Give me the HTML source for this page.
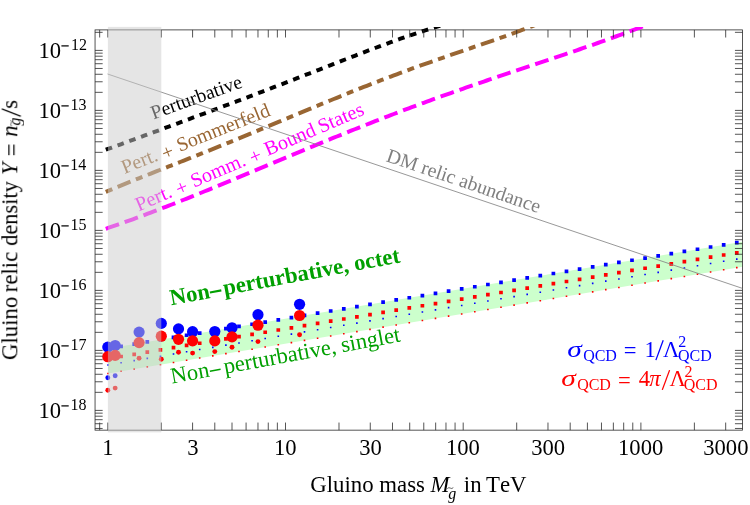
<!DOCTYPE html>
<html><head><meta charset="utf-8"><title>Gluino relic density</title>
<style>
html,body{margin:0;padding:0;background:#fff;}
body{width:750px;height:505px;overflow:hidden;}
svg{display:block;font-family:"Liberation Serif",serif;}
text{font-family:"Liberation Serif",serif;font-kerning:none;font-variant-ligatures:none;}
</style></head><body>
<svg width="750" height="505" viewBox="0 0 750 505">
<rect x="0" y="0" width="750" height="505" fill="#fff"/>
<g opacity="0.999">
<defs><clipPath id="pc"><rect x="95.05" y="26.9" width="647.5" height="405.5"/></clipPath></defs>
<g clip-path="url(#pc)">
<path d="M108.0,348.50 L742.55,241.64 L742.55,266.64 L108.0,373.50Z" fill="#ccffcc"/>
</g>
<rect x="95.05" y="29.9" width="647.5" height="400.25" fill="none" stroke="#2a2a2a" stroke-width="0.8"/>
<g clip-path="url(#pc)">
<path d="M108.0,373.50 L762.55,263.27" stroke="#ff0000" stroke-width="1.6" fill="none" stroke-linecap="square" stroke-dasharray="0 13.284"/>
<path d="M108.0,365.00 L762.55,254.77" stroke="#0000ff" stroke-width="1.6" fill="none" stroke-linecap="square" stroke-dasharray="0 13.284"/>
<path d="M108.0,358.70 L762.55,248.47" stroke="#ff0000" stroke-width="3.7" fill="none" stroke-linecap="square" stroke-dasharray="0 13.284"/>
<path d="M108.0,348.50 L762.55,238.27" stroke="#0000ff" stroke-width="3.7" fill="none" stroke-linecap="square" stroke-dasharray="0 13.284"/>
<path d="M105.80,228.77 L108.80,227.73 L111.80,226.70 L114.80,225.66 L117.80,224.61 L120.80,223.56 L123.80,222.50 L126.80,221.42 L129.80,220.35 L132.80,219.26 L135.80,218.16 L138.80,217.06 L141.80,215.95 L144.80,214.84 L147.80,213.71 L150.80,212.58 L153.80,211.44 L156.80,210.30 L159.80,209.15 L162.80,207.99 L165.80,206.83 L168.80,205.67 L171.80,204.49 L174.80,203.31 L177.80,202.13 L180.80,200.94 L183.80,199.75 L186.80,198.55 L189.80,197.35 L192.80,196.14 L195.80,194.93 L198.80,193.71 L201.80,192.50 L204.80,191.27 L207.80,190.05 L210.80,188.82 L213.80,187.59 L216.80,186.35 L219.80,185.11 L222.80,183.87 L225.80,182.63 L228.80,181.39 L231.80,180.14 L234.80,178.89 L237.80,177.64 L240.80,176.39 L243.80,175.14 L246.80,173.89 L249.80,172.63 L252.80,171.38 L255.80,170.12 L258.80,168.86 L261.80,167.61 L264.80,166.35 L267.80,165.09 L270.80,163.83 L273.80,162.58 L276.80,161.32 L279.80,160.06 L282.80,158.81 L285.80,157.56 L288.80,156.30 L291.80,155.05 L294.80,153.80 L297.80,152.55 L300.80,151.30 L303.80,150.06 L306.80,148.81 L309.80,147.57 L312.80,146.33 L315.80,145.09 L318.80,143.86 L321.80,142.62 L324.80,141.39 L327.80,140.16 L330.80,138.94 L333.80,137.72 L336.80,136.50 L339.80,135.28 L342.80,134.07 L345.80,132.86 L348.80,131.65 L351.80,130.45 L354.80,129.25 L357.80,128.05 L360.80,126.86 L363.80,125.67 L366.80,124.49 L369.80,123.31 L372.80,122.13 L375.80,120.96 L378.80,119.79 L381.80,118.62 L384.80,117.46 L387.80,116.30 L390.80,115.15 L393.80,114.00 L396.80,112.86 L399.80,111.72 L402.80,110.59 L405.80,109.45 L408.80,108.33 L411.80,107.21 L414.80,106.09 L417.80,104.97 L420.80,103.87 L423.80,102.76 L426.80,101.66 L429.80,100.56 L432.80,99.47 L435.80,98.39 L438.80,97.30 L441.80,96.22 L444.80,95.15 L447.80,94.08 L450.80,93.01 L453.80,91.95 L456.80,90.89 L459.80,89.83 L462.80,88.78 L465.80,87.73 L468.80,86.69 L471.80,85.65 L474.80,84.61 L477.80,83.58 L480.80,82.55 L483.80,81.52 L486.80,80.50 L489.80,79.47 L492.80,78.46 L495.80,77.44 L498.80,76.43 L501.80,75.41 L504.80,74.40 L507.80,73.40 L510.80,72.39 L513.80,71.39 L516.80,70.38 L519.80,69.38 L522.80,68.38 L525.80,67.38 L528.80,66.38 L531.80,65.38 L534.80,64.39 L537.80,63.39 L540.80,62.39 L543.80,61.39 L546.80,60.39 L549.80,59.39 L552.80,58.39 L555.80,57.38 L558.80,56.38 L561.80,55.37 L564.80,54.36 L567.80,53.34 L570.80,52.33 L573.80,51.31 L576.80,50.29 L579.80,49.26 L582.80,48.23 L585.80,47.19 L588.80,46.15 L591.80,45.11 L594.80,44.05 L597.80,43.00 L600.80,41.93 L603.80,40.86 L606.80,39.78 L609.80,38.70 L612.80,37.60 L615.80,36.50 L618.80,35.39 L621.80,34.27 L624.80,33.16 L627.80,32.04 L630.80,30.93 L633.80,29.82 L636.80,28.70 L639.80,27.59 L642.80,26.48 L645.80,25.36 L648.80,24.25 L651.80,23.13 L654.80,22.02 L657.80,20.91 L660.80,19.79 L663.80,18.68 L665.00,18.23" stroke="#ff00ff" stroke-width="4.0" fill="none" stroke-dasharray="14.0 6.0"/>
<path d="M105.80,191.81 L108.80,190.55 L111.80,189.29 L114.80,188.04 L117.80,186.79 L120.80,185.56 L123.80,184.34 L126.80,183.12 L129.80,181.91 L132.80,180.70 L135.80,179.50 L138.80,178.30 L141.80,177.11 L144.80,175.92 L147.80,174.74 L150.80,173.56 L153.80,172.37 L156.80,171.19 L159.80,170.01 L162.80,168.84 L165.80,167.66 L168.80,166.48 L171.80,165.30 L174.80,164.12 L177.80,162.94 L180.80,161.76 L183.80,160.58 L186.80,159.39 L189.80,158.21 L192.80,157.02 L195.80,155.83 L198.80,154.63 L201.80,153.44 L204.80,152.24 L207.80,151.03 L210.80,149.83 L213.80,148.62 L216.80,147.41 L219.80,146.20 L222.80,144.98 L225.80,143.77 L228.80,142.54 L231.80,141.32 L234.80,140.09 L237.80,138.86 L240.80,137.63 L243.80,136.40 L246.80,135.16 L249.80,133.92 L252.80,132.68 L255.80,131.44 L258.80,130.19 L261.80,128.94 L264.80,127.70 L267.80,126.45 L270.80,125.20 L273.80,123.94 L276.80,122.69 L279.80,121.44 L282.80,120.18 L285.80,118.93 L288.80,117.68 L291.80,116.42 L294.80,115.17 L297.80,113.91 L300.80,112.66 L303.80,111.41 L306.80,110.16 L309.80,108.91 L312.80,107.67 L315.80,106.42 L318.80,105.18 L321.80,103.94 L324.80,102.70 L327.80,101.47 L330.80,100.24 L333.80,99.01 L336.80,97.78 L339.80,96.56 L342.80,95.35 L345.80,94.13 L348.80,92.92 L351.80,91.72 L354.80,90.52 L357.80,89.32 L360.80,88.13 L363.80,86.95 L366.80,85.77 L369.80,84.59 L372.80,83.42 L375.80,82.26 L378.80,81.10 L381.80,79.94 L384.80,78.80 L387.80,77.65 L390.80,76.52 L393.80,75.39 L396.80,74.26 L399.80,73.15 L402.80,72.03 L405.80,70.93 L408.80,69.83 L411.80,68.73 L414.80,67.64 L417.80,66.56 L420.80,65.48 L423.80,64.40 L426.80,63.34 L429.80,62.27 L432.80,61.21 L435.80,60.16 L438.80,59.11 L441.80,58.06 L444.80,57.02 L447.80,55.98 L450.80,54.95 L453.80,53.91 L456.80,52.88 L459.80,51.85 L462.80,50.83 L465.80,49.80 L468.80,48.77 L471.80,47.75 L474.80,46.72 L477.80,45.70 L480.80,44.67 L483.80,43.64 L486.80,42.60 L489.80,41.57 L492.80,40.53 L495.80,39.48 L498.80,38.43 L501.80,37.37 L504.80,36.30 L507.80,35.23 L510.80,34.14 L513.80,33.05 L516.80,31.94 L519.80,30.83 L522.80,29.71 L525.80,28.59 L528.80,27.48 L531.80,26.36 L534.80,25.24 L537.80,24.13 L540.80,23.01 L543.80,21.89 L546.80,20.78 L549.80,19.66 L552.80,18.54 L555.80,17.43 L558.80,16.31 L560.00,15.86" stroke="#996633" stroke-width="4.0" fill="none" stroke-dasharray="7.0 5.82 13.88 5.82"/>
<path d="M105.80,149.72 L108.80,148.63 L111.80,147.54 L114.80,146.45 L117.80,145.36 L120.80,144.26 L123.80,143.17 L126.80,142.07 L129.80,140.97 L132.80,139.87 L135.80,138.77 L138.80,137.67 L141.80,136.57 L144.80,135.46 L147.80,134.36 L150.80,133.25 L153.80,132.15 L156.80,131.04 L159.80,129.94 L162.80,128.83 L165.80,127.72 L168.80,126.62 L171.80,125.51 L174.80,124.40 L177.80,123.29 L180.80,122.18 L183.80,121.07 L186.80,119.96 L189.80,118.84 L192.80,117.73 L195.80,116.62 L198.80,115.50 L201.80,114.39 L204.80,113.27 L207.80,112.16 L210.80,111.04 L213.80,109.92 L216.80,108.80 L219.80,107.68 L222.80,106.55 L225.80,105.43 L228.80,104.30 L231.80,103.18 L234.80,102.05 L237.80,100.92 L240.80,99.79 L243.80,98.65 L246.80,97.52 L249.80,96.38 L252.80,95.25 L255.80,94.11 L258.80,92.96 L261.80,91.82 L264.80,90.68 L267.80,89.53 L270.80,88.38 L273.80,87.23 L276.80,86.08 L279.80,84.92 L282.80,83.77 L285.80,82.61 L288.80,81.45 L291.80,80.29 L294.80,79.13 L297.80,77.96 L300.80,76.80 L303.80,75.63 L306.80,74.46 L309.80,73.29 L312.80,72.12 L315.80,70.95 L318.80,69.78 L321.80,68.61 L324.80,67.44 L327.80,66.27 L330.80,65.10 L333.80,63.93 L336.80,62.76 L339.80,61.59 L342.80,60.42 L345.80,59.25 L348.80,58.09 L351.80,56.93 L354.80,55.77 L357.80,54.61 L360.80,53.45 L363.80,52.30 L366.80,51.16 L369.80,50.02 L372.80,48.88 L375.80,47.75 L378.80,46.62 L381.80,45.51 L384.80,44.40 L387.80,43.29 L390.80,42.20 L393.80,41.11 L396.80,40.03 L399.80,38.97 L402.80,37.91 L405.80,36.87 L408.80,35.84 L411.80,34.82 L414.80,33.81 L417.80,32.82 L420.80,31.85 L423.80,30.89 L426.80,29.95 L429.80,29.01 L432.80,28.07 L435.80,27.12 L438.80,26.18 L441.80,25.24 L444.80,24.30 L447.80,23.36 L450.80,22.42 L453.80,21.48 L456.80,20.54 L459.80,19.60 L460.00,19.53" stroke="#000" stroke-width="4.0" fill="none" stroke-dasharray="6.6 5.9"/>
<circle cx="107.80" cy="377.8" r="2.45" fill="#0000ff"/>
<circle cx="115.16" cy="375.7" r="2.45" fill="#0000ff"/>
<circle cx="107.80" cy="390.2" r="2.45" fill="#ff0000"/>
<circle cx="115.16" cy="388.1" r="2.45" fill="#ff0000"/>
<circle cx="139.09" cy="358.3" r="2.45" fill="#ff0000"/>
<circle cx="161.29" cy="359.3" r="2.45" fill="#ff0000"/>
<circle cx="178.51" cy="352.3" r="2.45" fill="#ff0000"/>
<circle cx="192.58" cy="353.1" r="2.45" fill="#ff0000"/>
<circle cx="214.79" cy="351.6" r="2.45" fill="#ff0000"/>
<circle cx="232.01" cy="347.2" r="2.45" fill="#ff0000"/>
<circle cx="257.97" cy="341.6" r="2.45" fill="#ff0000"/>
<circle cx="299.57" cy="334.8" r="2.45" fill="#ff0000"/>
<circle cx="107.80" cy="347.1" r="5.6" fill="#0000ff"/>
<circle cx="115.16" cy="345.5" r="5.6" fill="#0000ff"/>
<circle cx="139.09" cy="332.1" r="5.6" fill="#0000ff"/>
<circle cx="161.29" cy="323.4" r="5.6" fill="#0000ff"/>
<circle cx="178.51" cy="328.9" r="5.6" fill="#0000ff"/>
<circle cx="192.58" cy="331.7" r="5.6" fill="#0000ff"/>
<circle cx="214.79" cy="331.5" r="5.6" fill="#0000ff"/>
<circle cx="232.01" cy="327.8" r="5.6" fill="#0000ff"/>
<circle cx="257.97" cy="314.7" r="5.6" fill="#0000ff"/>
<circle cx="299.57" cy="304.3" r="5.6" fill="#0000ff"/>
<circle cx="107.80" cy="356.7" r="5.6" fill="#ff0000"/>
<circle cx="115.16" cy="355.4" r="5.6" fill="#ff0000"/>
<circle cx="139.09" cy="342.6" r="5.6" fill="#ff0000"/>
<circle cx="161.29" cy="336.2" r="5.6" fill="#ff0000"/>
<circle cx="178.51" cy="339.3" r="5.6" fill="#ff0000"/>
<circle cx="192.58" cy="340.9" r="5.6" fill="#ff0000"/>
<circle cx="214.79" cy="340.9" r="5.6" fill="#ff0000"/>
<circle cx="232.01" cy="336.9" r="5.6" fill="#ff0000"/>
<circle cx="257.97" cy="325.2" r="5.6" fill="#ff0000"/>
<circle cx="299.57" cy="315.5" r="5.6" fill="#ff0000"/>
</g>
<text transform="translate(153.4,119.4) rotate(-19.8)" font-size="19.6" fill="#000" font-weight="normal" >Perturbative</text>
<g transform="translate(124.5,174.0) rotate(-21.8)" font-size="20.0" fill="#996633">
<text x="0.00" y="0">Pert.</text>
<text x="42.52" y="2.2">+</text>
<text x="59.50" y="0">Sommerfeld</text>
</g>
<g transform="translate(138.8,211.4) rotate(-23.2)" font-size="20.2" fill="#ff00ff">
<text x="0.00" y="0">Pert.</text>
<text x="43.04" y="1.8">+</text>
<text x="60.08" y="0">Somm.</text>
<text x="123.24" y="1.8">+</text>
<text x="140.38" y="0">Bound</text>
<text x="198.51" y="0">States</text>
</g>
<text transform="translate(385.2,160.9) rotate(18.85)" font-size="19.8" fill="#808080" font-weight="normal" >DM relic abundance</text>
<g transform="translate(171.3,305.2) rotate(-10.57)" font-size="22.6" fill="#00a000" font-weight="bold">
<text x="0" y="0">Non</text>
<path d="M40.3,-5.4 H51.9" stroke="#00a000" stroke-width="2.1" fill="none"/>
<text x="54.17" y="0">perturbative,</text>
<text x="187.13" y="0">octet</text>
</g>
<g transform="translate(172.1,383.6) rotate(-10.45)" font-size="22.5" fill="#00a000">
<text x="0" y="0">Non</text>
<path d="M39.4,-5.3 H50.3" stroke="#00a000" stroke-width="1.35" fill="none"/>
<text x="53.74" y="0">perturbative,</text>
<text x="172.99" y="0">singlet</text>
</g>
<g stroke="#2a2a2a" stroke-width="0.8" fill="none">
<path d="M99.67,430.15 V422.54999999999995 M99.67,29.9 V37.5"/>
<path d="M107.80,430.15 V422.54999999999995 M107.80,29.9 V37.5"/>
<path d="M161.29,430.15 V422.54999999999995 M161.29,29.9 V37.5"/>
<path d="M192.58,430.15 V422.54999999999995 M192.58,29.9 V37.5"/>
<path d="M214.79,430.15 V422.54999999999995 M214.79,29.9 V37.5"/>
<path d="M232.01,430.15 V422.54999999999995 M232.01,29.9 V37.5"/>
<path d="M246.08,430.15 V422.54999999999995 M246.08,29.9 V37.5"/>
<path d="M257.97,430.15 V422.54999999999995 M257.97,29.9 V37.5"/>
<path d="M268.28,430.15 V422.54999999999995 M268.28,29.9 V37.5"/>
<path d="M277.37,430.15 V422.54999999999995 M277.37,29.9 V37.5"/>
<path d="M285.50,430.15 V422.54999999999995 M285.50,29.9 V37.5"/>
<path d="M338.99,430.15 V422.54999999999995 M338.99,29.9 V37.5"/>
<path d="M370.28,430.15 V422.54999999999995 M370.28,29.9 V37.5"/>
<path d="M392.49,430.15 V422.54999999999995 M392.49,29.9 V37.5"/>
<path d="M409.71,430.15 V422.54999999999995 M409.71,29.9 V37.5"/>
<path d="M423.78,430.15 V422.54999999999995 M423.78,29.9 V37.5"/>
<path d="M435.67,430.15 V422.54999999999995 M435.67,29.9 V37.5"/>
<path d="M445.98,430.15 V422.54999999999995 M445.98,29.9 V37.5"/>
<path d="M455.07,430.15 V422.54999999999995 M455.07,29.9 V37.5"/>
<path d="M463.20,430.15 V422.54999999999995 M463.20,29.9 V37.5"/>
<path d="M516.69,430.15 V422.54999999999995 M516.69,29.9 V37.5"/>
<path d="M547.98,430.15 V422.54999999999995 M547.98,29.9 V37.5"/>
<path d="M570.19,430.15 V422.54999999999995 M570.19,29.9 V37.5"/>
<path d="M587.41,430.15 V422.54999999999995 M587.41,29.9 V37.5"/>
<path d="M601.48,430.15 V422.54999999999995 M601.48,29.9 V37.5"/>
<path d="M613.37,430.15 V422.54999999999995 M613.37,29.9 V37.5"/>
<path d="M623.68,430.15 V422.54999999999995 M623.68,29.9 V37.5"/>
<path d="M632.77,430.15 V422.54999999999995 M632.77,29.9 V37.5"/>
<path d="M640.90,430.15 V422.54999999999995 M640.90,29.9 V37.5"/>
<path d="M694.39,430.15 V422.54999999999995 M694.39,29.9 V37.5"/>
<path d="M725.68,430.15 V422.54999999999995 M725.68,29.9 V37.5"/>
<path d="M95.05,428.46 H102.64999999999999 M742.55,428.46 H734.9499999999999"/>
<path d="M95.05,423.71 H102.64999999999999 M742.55,423.71 H734.9499999999999"/>
<path d="M95.05,419.69 H102.64999999999999 M742.55,419.69 H734.9499999999999"/>
<path d="M95.05,416.21 H102.64999999999999 M742.55,416.21 H734.9499999999999"/>
<path d="M95.05,413.15 H102.64999999999999 M742.55,413.15 H734.9499999999999"/>
<path d="M95.05,410.40 H102.64999999999999 M742.55,410.40 H734.9499999999999"/>
<path d="M95.05,392.34 H102.64999999999999 M742.55,392.34 H734.9499999999999"/>
<path d="M95.05,381.77 H102.64999999999999 M742.55,381.77 H734.9499999999999"/>
<path d="M95.05,374.28 H102.64999999999999 M742.55,374.28 H734.9499999999999"/>
<path d="M95.05,368.46 H102.64999999999999 M742.55,368.46 H734.9499999999999"/>
<path d="M95.05,363.71 H102.64999999999999 M742.55,363.71 H734.9499999999999"/>
<path d="M95.05,359.69 H102.64999999999999 M742.55,359.69 H734.9499999999999"/>
<path d="M95.05,356.21 H102.64999999999999 M742.55,356.21 H734.9499999999999"/>
<path d="M95.05,353.15 H102.64999999999999 M742.55,353.15 H734.9499999999999"/>
<path d="M95.05,350.40 H102.64999999999999 M742.55,350.40 H734.9499999999999"/>
<path d="M95.05,332.34 H102.64999999999999 M742.55,332.34 H734.9499999999999"/>
<path d="M95.05,321.77 H102.64999999999999 M742.55,321.77 H734.9499999999999"/>
<path d="M95.05,314.28 H102.64999999999999 M742.55,314.28 H734.9499999999999"/>
<path d="M95.05,308.46 H102.64999999999999 M742.55,308.46 H734.9499999999999"/>
<path d="M95.05,303.71 H102.64999999999999 M742.55,303.71 H734.9499999999999"/>
<path d="M95.05,299.69 H102.64999999999999 M742.55,299.69 H734.9499999999999"/>
<path d="M95.05,296.21 H102.64999999999999 M742.55,296.21 H734.9499999999999"/>
<path d="M95.05,293.15 H102.64999999999999 M742.55,293.15 H734.9499999999999"/>
<path d="M95.05,290.40 H102.64999999999999 M742.55,290.40 H734.9499999999999"/>
<path d="M95.05,272.34 H102.64999999999999 M742.55,272.34 H734.9499999999999"/>
<path d="M95.05,261.77 H102.64999999999999 M742.55,261.77 H734.9499999999999"/>
<path d="M95.05,254.28 H102.64999999999999 M742.55,254.28 H734.9499999999999"/>
<path d="M95.05,248.46 H102.64999999999999 M742.55,248.46 H734.9499999999999"/>
<path d="M95.05,243.71 H102.64999999999999 M742.55,243.71 H734.9499999999999"/>
<path d="M95.05,239.69 H102.64999999999999 M742.55,239.69 H734.9499999999999"/>
<path d="M95.05,236.21 H102.64999999999999 M742.55,236.21 H734.9499999999999"/>
<path d="M95.05,233.15 H102.64999999999999 M742.55,233.15 H734.9499999999999"/>
<path d="M95.05,230.40 H102.64999999999999 M742.55,230.40 H734.9499999999999"/>
<path d="M95.05,212.34 H102.64999999999999 M742.55,212.34 H734.9499999999999"/>
<path d="M95.05,201.77 H102.64999999999999 M742.55,201.77 H734.9499999999999"/>
<path d="M95.05,194.28 H102.64999999999999 M742.55,194.28 H734.9499999999999"/>
<path d="M95.05,188.46 H102.64999999999999 M742.55,188.46 H734.9499999999999"/>
<path d="M95.05,183.71 H102.64999999999999 M742.55,183.71 H734.9499999999999"/>
<path d="M95.05,179.69 H102.64999999999999 M742.55,179.69 H734.9499999999999"/>
<path d="M95.05,176.21 H102.64999999999999 M742.55,176.21 H734.9499999999999"/>
<path d="M95.05,173.15 H102.64999999999999 M742.55,173.15 H734.9499999999999"/>
<path d="M95.05,170.40 H102.64999999999999 M742.55,170.40 H734.9499999999999"/>
<path d="M95.05,152.34 H102.64999999999999 M742.55,152.34 H734.9499999999999"/>
<path d="M95.05,141.77 H102.64999999999999 M742.55,141.77 H734.9499999999999"/>
<path d="M95.05,134.28 H102.64999999999999 M742.55,134.28 H734.9499999999999"/>
<path d="M95.05,128.46 H102.64999999999999 M742.55,128.46 H734.9499999999999"/>
<path d="M95.05,123.71 H102.64999999999999 M742.55,123.71 H734.9499999999999"/>
<path d="M95.05,119.69 H102.64999999999999 M742.55,119.69 H734.9499999999999"/>
<path d="M95.05,116.21 H102.64999999999999 M742.55,116.21 H734.9499999999999"/>
<path d="M95.05,113.15 H102.64999999999999 M742.55,113.15 H734.9499999999999"/>
<path d="M95.05,110.40 H102.64999999999999 M742.55,110.40 H734.9499999999999"/>
<path d="M95.05,92.34 H102.64999999999999 M742.55,92.34 H734.9499999999999"/>
<path d="M95.05,81.77 H102.64999999999999 M742.55,81.77 H734.9499999999999"/>
<path d="M95.05,74.28 H102.64999999999999 M742.55,74.28 H734.9499999999999"/>
<path d="M95.05,68.46 H102.64999999999999 M742.55,68.46 H734.9499999999999"/>
<path d="M95.05,63.71 H102.64999999999999 M742.55,63.71 H734.9499999999999"/>
<path d="M95.05,59.69 H102.64999999999999 M742.55,59.69 H734.9499999999999"/>
<path d="M95.05,56.21 H102.64999999999999 M742.55,56.21 H734.9499999999999"/>
<path d="M95.05,53.15 H102.64999999999999 M742.55,53.15 H734.9499999999999"/>
<path d="M95.05,50.40 H102.64999999999999 M742.55,50.40 H734.9499999999999"/>
<path d="M95.05,32.34 H102.64999999999999 M742.55,32.34 H734.9499999999999"/>
</g>
<g clip-path="url(#pc)">
<path d="M107.6,74.0 L742.55,288.42" stroke="#858585" stroke-width="0.85" fill="none"/>
</g>
<rect x="107.9" y="26.9" width="53.40" height="405.5" fill="#cccccc" fill-opacity="0.5"/>
<text x="102.14" y="454.80" font-size="22.6" fill="#000">1</text>
<text x="187.14" y="454.80" font-size="22.6" fill="#000">3</text>
<text x="273.94" y="454.80" font-size="22.6" fill="#000">10</text>
<text x="359.17" y="454.80" font-size="22.6" fill="#000">30</text>
<text x="445.99" y="454.80" font-size="22.6" fill="#000">100</text>
<text x="531.22" y="454.80" font-size="22.6" fill="#000">300</text>
<text x="618.04" y="454.80" font-size="22.6" fill="#000">1000</text>
<text x="703.27" y="454.80" font-size="22.6" fill="#000">3000</text>
<text x="70.61" y="410.10" font-size="16" fill="#000">18</text>
<path d="M61.4,405.90 H68.7" stroke="#000" stroke-width="1.25" fill="none"/>
<text x="38.56" y="418.00" font-size="22.6" fill="#000">10</text>
<text x="70.46" y="350.10" font-size="16" fill="#000">17</text>
<path d="M61.4,345.90 H68.7" stroke="#000" stroke-width="1.25" fill="none"/>
<text x="38.56" y="358.00" font-size="22.6" fill="#000">10</text>
<text x="70.48" y="290.10" font-size="16" fill="#000">16</text>
<path d="M61.4,285.90 H68.7" stroke="#000" stroke-width="1.25" fill="none"/>
<text x="38.56" y="298.00" font-size="22.6" fill="#000">10</text>
<text x="70.62" y="230.10" font-size="16" fill="#000">15</text>
<path d="M61.4,225.90 H68.7" stroke="#000" stroke-width="1.25" fill="none"/>
<text x="38.56" y="238.00" font-size="22.6" fill="#000">10</text>
<text x="70.25" y="170.10" font-size="16" fill="#000">14</text>
<path d="M61.4,165.90 H68.7" stroke="#000" stroke-width="1.25" fill="none"/>
<text x="38.56" y="178.00" font-size="22.6" fill="#000">10</text>
<text x="70.62" y="110.10" font-size="16" fill="#000">13</text>
<path d="M61.4,105.90 H68.7" stroke="#000" stroke-width="1.25" fill="none"/>
<text x="38.56" y="118.00" font-size="22.6" fill="#000">10</text>
<text x="70.88" y="50.10" font-size="16" fill="#000">12</text>
<path d="M61.4,45.90 H68.7" stroke="#000" stroke-width="1.25" fill="none"/>
<text x="38.56" y="58.00" font-size="22.6" fill="#000">10</text>
<text x="310.26" y="491.80" font-size="22.8" fill="#000">Gluino</text>
<text x="379.32" y="491.80" font-size="22.8" fill="#000">mass</text>
<text x="430.57" y="491.80" font-size="22.8" fill="#000" font-style="italic">M</text>
<text x="448.19" y="498.50" font-size="16" fill="#000" font-style="italic">g</text>
<path d="M447.3,488.6 q1.5,-1.6 3,-0.5 t3,-0.5" fill="none" stroke="#222" stroke-width="0.7"/>
<text x="463.82" y="491.80" font-size="22.8" fill="#000">in</text>
<text x="485.99" y="491.80" font-size="22.8" fill="#000">TeV</text>
<g transform="translate(17.3,359.1) rotate(-90)">
<text x="-0.94" y="0.00" font-size="22.8" fill="#000">Gluino</text>
<text x="66.84" y="0.00" font-size="22.8" fill="#000">relic</text>
<text x="113.19" y="0.00" font-size="22.4" fill="#000">density</text>
<text x="184.10" y="0.00" font-size="22.8" fill="#000" font-style="italic">Y</text>
<text x="202.66" y="2.00" font-size="22.8" fill="#000">=</text>
<text x="222.19" y="0.00" font-size="22.8" fill="#000" font-style="italic">n</text>
<text x="233.59" y="2.60" font-size="16" fill="#000" font-style="italic">g</text>
<path d="M232.8,-5.6 q1.5,-1.6 3,-0.5 t3,-0.5" fill="none" stroke="#222" stroke-width="0.7"/>
<path d="M242.8,3.4 L250.2,-15.6" fill="none" stroke="#000" stroke-width="1.25"/>
<text x="250.26" y="0.00" font-size="22.8" fill="#000">s</text>
</g>
<text transform="translate(568.20,356.5) scale(1.305,1)" x="-0.67" y="0" font-size="22.6" fill="#0000ff" font-style="italic">σ</text>
<text x="583.14" y="360.50" font-size="16" fill="#0000ff">QCD</text>
<text x="623.67" y="358.30" font-size="22.6" fill="#0000ff">=</text>
<text x="644.61" y="356.50" font-size="22.6" fill="#0000ff">1</text>
<path d="M655.9,360.1 L663.2,340.3" stroke="#0000ff" stroke-width="1.3" fill="none"/>
<text x="662.98" y="356.50" font-size="22.6" fill="#0000ff">Λ</text>
<text x="678.30" y="347.20" font-size="16" fill="#0000ff">2</text>
<text x="677.94" y="360.50" font-size="16" fill="#0000ff">QCD</text>
<text transform="translate(562.20,386.3) scale(1.305,1)" x="-0.67" y="0" font-size="22.6" fill="#ff0000" font-style="italic">σ</text>
<text x="577.14" y="390.30" font-size="16" fill="#ff0000">QCD</text>
<text x="618.07" y="388.10" font-size="22.6" fill="#ff0000">=</text>
<text x="638.76" y="386.30" font-size="22.6" fill="#ff0000">4</text>
<text x="649.28" y="386.30" font-size="22.6" fill="#ff0000" font-style="italic">π</text>
<path d="M662.3,389.90000000000003 L669.6,370.1" stroke="#ff0000" stroke-width="1.3" fill="none"/>
<text x="669.58" y="386.30" font-size="22.6" fill="#ff0000">Λ</text>
<text x="684.50" y="377.00" font-size="16" fill="#ff0000">2</text>
<text x="683.74" y="390.30" font-size="16" fill="#ff0000">QCD</text>
</g>
</svg></body></html>
